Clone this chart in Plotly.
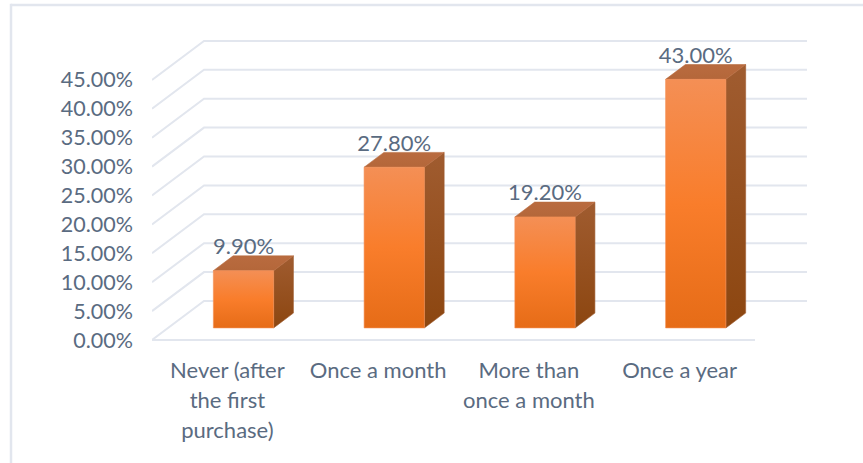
import plotly.graph_objects as go

categories = ["Never (after<br>the first<br>purchase)", "Once a month", "More than<br>once a month", "Once a year"]
values = [9.9, 27.8, 19.2, 43.0]
ticks = [0, 5, 10, 15, 20, 25, 30, 35, 40, 45]

# projection of the 3D box, in axis units
DEPTH_X, DEPTH_Y = 0.345, 6.75
NEAR, FAR = 0.31, 0.69
BAR_W = 0.40
LABEL_RISE = 1.25
TEXT = "#5a6b81"
GRID = "#e2e6ee"
FONT = "Lato"

fig = go.Figure()

xmin, xmax = -0.5, len(categories) - 0.5
for t in ticks:
    fig.add_trace(go.Scatter(
        x=[xmin, xmin + DEPTH_X, xmax + DEPTH_X],
        y=[t, t + DEPTH_Y, t + DEPTH_Y],
        mode="lines", line=dict(color=GRID, width=2),
        hoverinfo="skip", showlegend=False, cliponaxis=False))
fig.add_trace(go.Scatter(
    x=[xmin, xmax], y=[0, 0], mode="lines",
    line=dict(color=GRID, width=2), hoverinfo="skip", showlegend=False, cliponaxis=False))


def face(xs, ys, stops):
    fig.add_trace(go.Scatter(
        x=xs, y=ys, mode="lines", fill="toself",
        line=dict(width=0.6, color=stops[-1][1]),
        fillgradient=dict(type="vertical", colorscale=stops),
        hoverinfo="skip", showlegend=False, cliponaxis=False))


for i, v in enumerate(values):
    xl = i - BAR_W / 2 + NEAR * DEPTH_X
    xr = xl + BAR_W
    y0 = NEAR * DEPTH_Y
    y1 = v + y0
    ddx = (FAR - NEAR) * DEPTH_X
    ddy = (FAR - NEAR) * DEPTH_Y
    face([xr, xr + ddx, xr + ddx, xr, xr], [y0, y0 + ddy, y1 + ddy, y1, y0],
         [[0, "#8c4610"], [1, "#a05c30"]])
    face([xl, xr, xr + ddx, xl + ddx, xl], [y1, y1, y1 + ddy, y1 + ddy, y1],
         [[0, "#b4673a"], [1, "#b96b3f"]])
    face([xl, xr, xr, xl, xl], [y0, y0, y1, y1, y0],
         [[0, "#e66c17"], [0.5, "#f97d2b"], [1, "#f48f55"]])

fig.add_trace(go.Scatter(
    x=[i + NEAR * DEPTH_X for i in range(len(values))],
    y=[v + NEAR * DEPTH_Y + (FAR - NEAR) * DEPTH_Y + LABEL_RISE for v in values],
    mode="text", text=[f"{v:.2f}%" for v in values], textposition="middle center",
    textfont=dict(family=FONT, size=22, color=TEXT),
    hoverinfo="skip", showlegend=False, cliponaxis=False))

small = "<span style='font-size:22px'>%s</span>"
ticktext = ["<br>".join(small % p for p in c.split("<br>")) for c in categories]

H = 311  # plot height in px: 5.78 px per percentage point
fig.update_layout(
    width=863, height=463, autosize=False,
    margin=dict(l=152, r=47, t=29, b=117),
    paper_bgcolor="white", plot_bgcolor="rgba(0,0,0,0)",
    showlegend=False,
    font=dict(family=FONT, color=TEXT),
    xaxis=dict(range=[xmin, xmin + 664 / 150.75], tickmode="array",
               tickvals=list(range(len(categories))), ticktext=ticktext,
               tickfont=dict(size=23, color=TEXT, family=FONT),
               showgrid=False, zeroline=False, showline=False, ticks="",
               ticklabelstandoff=8, tickangle=0),
    yaxis=dict(range=[-6 / 5.78, 311 / 5.78], tickmode="array", tickvals=ticks,
               ticktext=[f"{t:.2f}%" for t in ticks],
               tickfont=dict(size=21.5, color=TEXT, family=FONT),
               showgrid=False, zeroline=False, showline=False, ticks="",
               ticklabelstandoff=18),
    shapes=[
        dict(type="line", xref="paper", yref="paper", x0=-141 / 664, x1=-141 / 664, y0=-0.42, y1=1.08,
             line=dict(color=GRID, width=2.5)),
        dict(type="line", xref="paper", yref="paper", x0=-141 / 664, x1=1.09, y0=1 + 24 / 317, y1=1 + 24 / 317,
             line=dict(color=GRID, width=2.5)),
    ],
)
fig.write_html("out.html", config={"displayModeBar": False},
               post_script="document.body.style.margin='0';document.documentElement.style.overflow='hidden';")
